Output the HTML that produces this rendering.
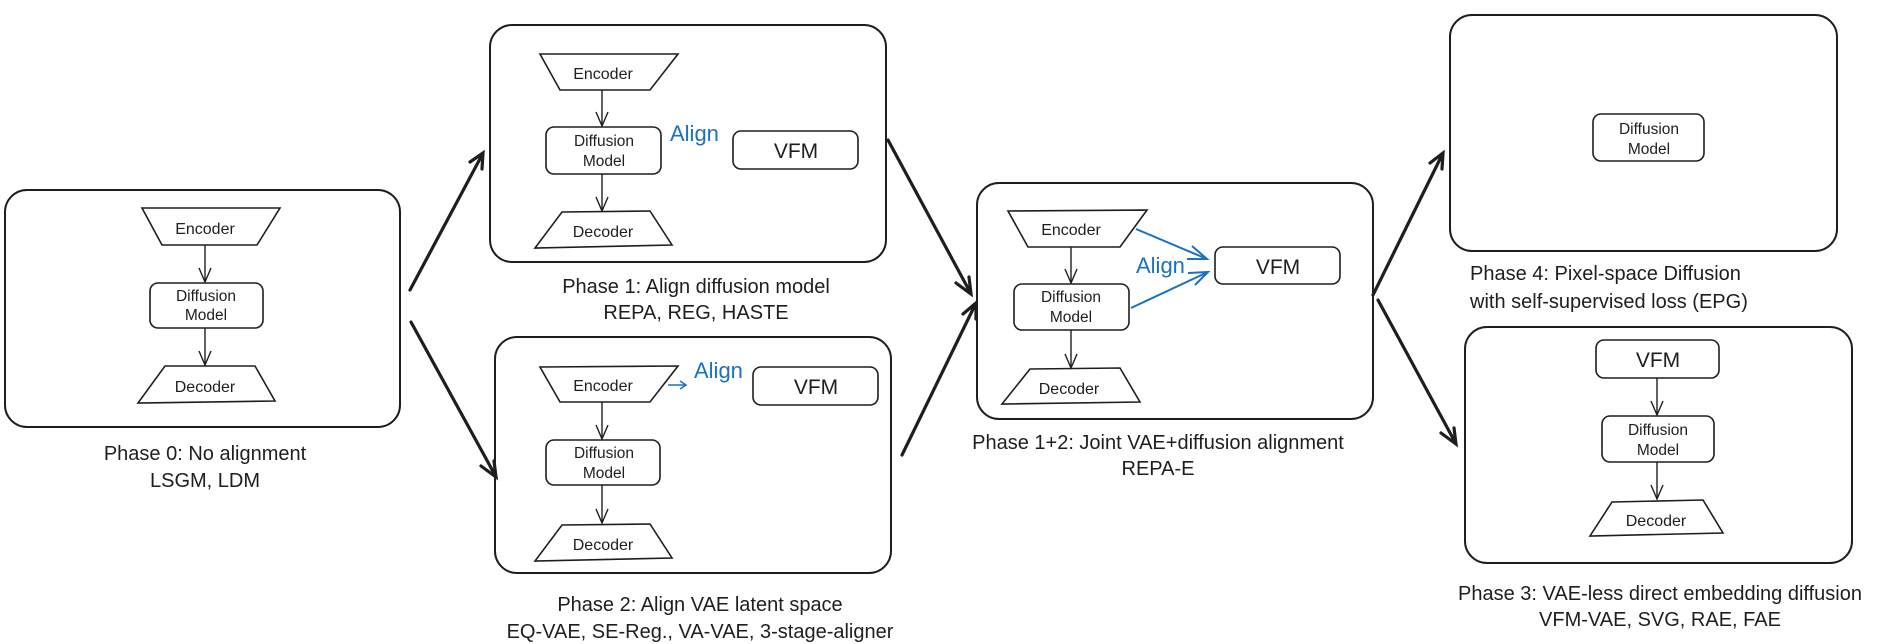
<!DOCTYPE html>
<html><head><meta charset="utf-8"><style>
html,body{margin:0;padding:0;background:#fff;}
svg{display:block;}
text{font-family:"Liberation Sans",sans-serif;fill:#1e1e1e;}
.lbl{font-size:20px;text-anchor:middle;}
.n{font-size:15.5px;text-anchor:middle;}
.e{font-size:16px;text-anchor:middle;}
.v{font-size:21px;text-anchor:middle;}
.al{font-size:22px;fill:#1971c2;}
.box{fill:none;stroke:#1e1e1e;stroke-width:2;}
.sm{fill:none;stroke:#1e1e1e;stroke-width:1.6;}
.ar{fill:none;stroke:#1e1e1e;stroke-width:1.4;}
.big{fill:none;stroke:#1e1e1e;stroke-width:3.2;stroke-linecap:round;}
.bl{fill:none;stroke:#1971c2;stroke-width:2;}
</style></head><body>
<svg width="1904" height="644" viewBox="0 0 1904 644" xmlns="http://www.w3.org/2000/svg">

<!-- Phase 0 -->
<rect class="box" x="5" y="190" width="395" height="237" rx="22"/>
<polygon class="sm" points="142,208 280,208 257,245 162,245"/>
<text class="e" x="205" y="234">Encoder</text>
<line class="ar" x1="205" y1="245" x2="205" y2="282"/><polyline class="ar" points="199,268 205,282 211,268"/>
<rect class="sm" x="150" y="283" width="113" height="45" rx="8"/>
<text class="n" x="206" y="301">Diffusion</text><text class="n" x="206" y="320">Model</text>
<line class="ar" x1="205" y1="328" x2="205" y2="365"/><polyline class="ar" points="199,351 205,365 211,351"/>
<polygon class="sm" points="165,366 255,366 275,401 138,403"/>
<text class="e" x="205" y="392">Decoder</text>
<text class="lbl" x="205" y="460">Phase 0: No alignment</text>
<text class="lbl" x="205" y="487">LSGM, LDM</text>

<!-- arrows from phase 0 -->
<line class="big" x1="410" y1="290" x2="482" y2="155"/><polyline class="big" points="470,162 483,153 482,169"/>
<line class="big" x1="411" y1="322" x2="495" y2="475"/><polyline class="big" points="481,466 496,477 494,461"/>

<!-- Phase 1 -->
<rect class="box" x="490" y="25" width="396" height="237" rx="22"/>
<polygon class="sm" points="540,54 678,54 650,90 560,90"/>
<text class="e" x="603" y="79">Encoder</text>
<line class="ar" x1="602" y1="90" x2="602" y2="126"/><polyline class="ar" points="596,112 602,126 608,112"/>
<rect class="sm" x="546" y="127" width="115" height="47" rx="8"/>
<text class="n" x="604" y="146">Diffusion</text><text class="n" x="604" y="166">Model</text>
<line class="ar" x1="602" y1="174" x2="602" y2="211"/><polyline class="ar" points="596,197 602,211 608,197"/>
<polygon class="sm" points="562,212 650,211 672,245 535,248"/>
<text class="e" x="603" y="237">Decoder</text>
<text class="al" x="670" y="141">Align</text>
<rect class="sm" x="733" y="131" width="125" height="38" rx="8"/>
<text class="v" x="796" y="158">VFM</text>
<text class="lbl" x="696" y="293">Phase 1: Align diffusion model</text>
<text class="lbl" x="696" y="319">REPA, REG, HASTE</text>

<!-- Phase 2 -->
<rect class="box" x="495" y="337" width="396" height="236" rx="22"/>
<polygon class="sm" points="540,367 678,366 650,402 560,402"/>
<text class="e" x="603" y="391">Encoder</text>
<line class="bl" x1="668" y1="385" x2="685" y2="385" style="stroke-width:1.5"/><polyline class="bl" points="680,381 686,385 680,389" style="stroke-width:1.5"/>
<text class="al" x="694" y="378">Align</text>
<rect class="sm" x="753" y="367" width="125" height="38" rx="8"/>
<text class="v" x="816" y="394">VFM</text>
<line class="ar" x1="602" y1="402" x2="602" y2="439"/><polyline class="ar" points="596,425 602,439 608,425"/>
<rect class="sm" x="546" y="440" width="114" height="45" rx="8"/>
<text class="n" x="604" y="458">Diffusion</text><text class="n" x="604" y="478">Model</text>
<line class="ar" x1="602" y1="485" x2="602" y2="523"/><polyline class="ar" points="596,509 602,523 608,509"/>
<polygon class="sm" points="562,525 650,524 672,558 535,561"/>
<text class="e" x="603" y="550">Decoder</text>
<text class="lbl" x="700" y="611">Phase 2: Align VAE latent space</text>
<text class="lbl" x="700" y="638">EQ-VAE, SE-Reg., VA-VAE, 3-stage-aligner</text>

<!-- arrows into phase 1+2 -->
<line class="big" x1="888" y1="140" x2="970" y2="292"/><polyline class="big" points="956,283 971,294 969,277"/>
<line class="big" x1="902" y1="455" x2="975" y2="305"/><polyline class="big" points="963,314 976,303 976,319"/>

<!-- Phase 1+2 -->
<rect class="box" x="977" y="183" width="396" height="236" rx="22"/>
<polygon class="sm" points="1008,211 1147,210 1120,247 1028,247"/>
<text class="e" x="1071" y="235">Encoder</text>
<line class="ar" x1="1071" y1="247" x2="1071" y2="283"/><polyline class="ar" points="1065,269 1071,283 1077,269"/>
<rect class="sm" x="1014" y="284" width="115" height="46" rx="8"/>
<text class="n" x="1071" y="302">Diffusion</text><text class="n" x="1071" y="322">Model</text>
<line class="ar" x1="1071" y1="330" x2="1071" y2="368"/><polyline class="ar" points="1065,354 1071,368 1077,354"/>
<polygon class="sm" points="1030,369 1120,368 1140,402 1002,404"/>
<text class="e" x="1069" y="394">Decoder</text>
<line class="bl" x1="1136" y1="229" x2="1207" y2="259"/><polyline class="bl" points="1192,246 1207,259 1187,259"/>
<line class="bl" x1="1131" y1="308" x2="1208" y2="272"/><polyline class="bl" points="1188,273 1208,272 1195,285"/>
<text class="al" x="1136" y="273">Align</text>
<rect class="sm" x="1215" y="247" width="125" height="37" rx="8"/>
<text class="v" x="1278" y="274">VFM</text>
<text class="lbl" x="1158" y="449">Phase 1+2: Joint VAE+diffusion alignment</text>
<text class="lbl" x="1158" y="475">REPA-E</text>

<!-- arrows out of phase 1+2 -->
<line class="big" x1="1373" y1="295" x2="1442" y2="155"/><polyline class="big" points="1430,163 1443,153 1442,169"/>
<line class="big" x1="1378" y1="300" x2="1455" y2="442"/><polyline class="big" points="1441,433 1456,444 1454,428"/>

<!-- Phase 4 -->
<rect class="box" x="1450" y="15" width="387" height="236" rx="22"/>
<rect class="sm" x="1593" y="114" width="111" height="47" rx="8"/>
<text class="n" x="1649" y="134">Diffusion</text><text class="n" x="1649" y="154">Model</text>
<text class="lbl" x="1470" y="280" style="text-anchor:start">Phase 4: Pixel-space Diffusion</text>
<text class="lbl" x="1470" y="308" style="text-anchor:start">with self-supervised loss (EPG)</text>

<!-- Phase 3 -->
<rect class="box" x="1465" y="327" width="387" height="236" rx="22"/>
<rect class="sm" x="1596" y="340" width="123" height="38" rx="8"/>
<text class="v" x="1658" y="367">VFM</text>
<line class="ar" x1="1657" y1="378" x2="1657" y2="415"/><polyline class="ar" points="1651,401 1657,415 1663,401"/>
<rect class="sm" x="1602" y="416" width="112" height="46" rx="8"/>
<text class="n" x="1658" y="435">Diffusion</text><text class="n" x="1658" y="455">Model</text>
<line class="ar" x1="1657" y1="462" x2="1657" y2="499"/><polyline class="ar" points="1651,485 1657,499 1663,485"/>
<polygon class="sm" points="1612,502 1703,500 1723,533 1590,536"/>
<text class="e" x="1656" y="526">Decoder</text>
<text class="lbl" x="1660" y="600">Phase 3: VAE-less direct embedding diffusion</text>
<text class="lbl" x="1660" y="626">VFM-VAE, SVG, RAE, FAE</text>
</svg>
</body></html>
